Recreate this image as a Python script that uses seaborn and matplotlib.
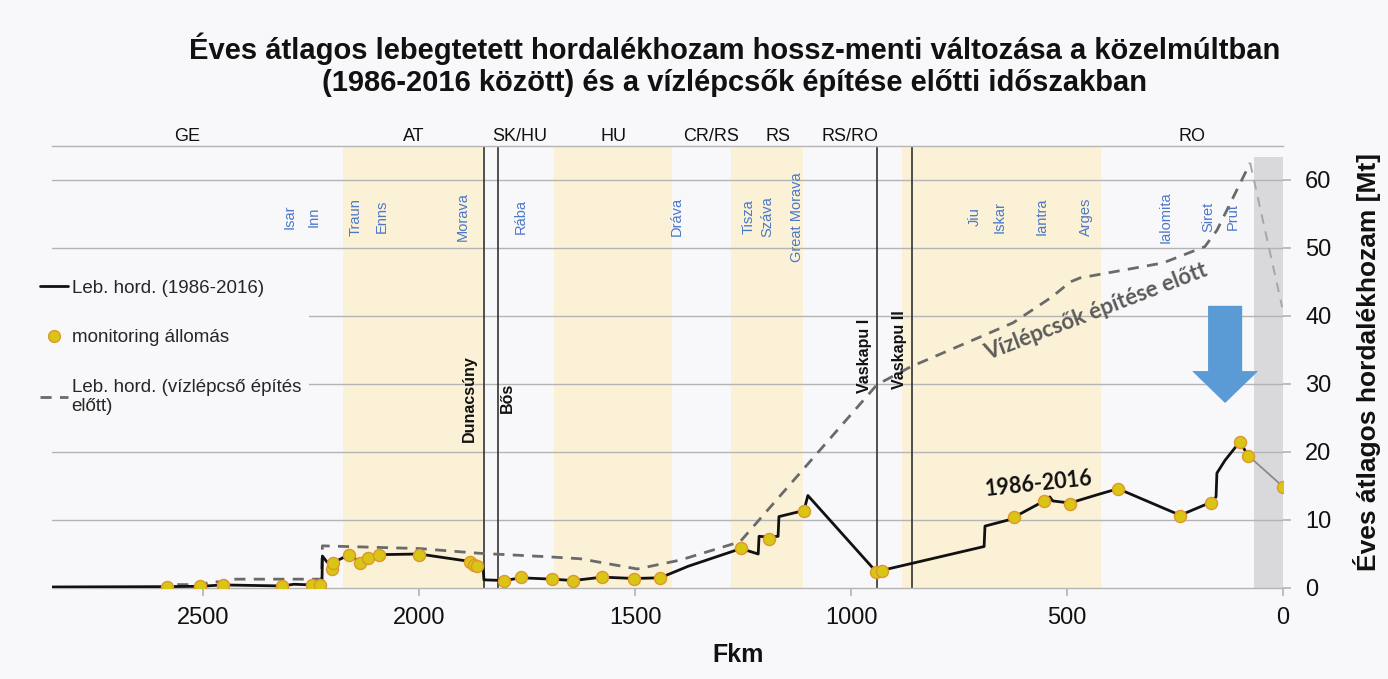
import matplotlib
matplotlib.use("Agg")
import matplotlib.pyplot as plt
import matplotlib.transforms as mtransforms
from matplotlib.lines import Line2D
import seaborn as sns

# --- data (Fkm, Mt) ---
recent_km = [2850, 2584, 2507, 2454, 2317, 2290, 2247, 2229, 2225, 2224, 2213, 2200,
             2162, 2137, 2119, 2094, 2000, 1882, 1865, 1852, 1850, 1803, 1764, 1692,
             1643, 1576, 1502, 1442, 1377, 1255, 1215, 1213, 1190, 1169, 1167, 1109,
             1100, 942, 928, 692, 690, 636, 623, 553, 540, 533, 493, 431, 382, 238,
             167, 155, 153, 134, 100, 81]
recent_mt = [0.15, 0.2, 0.25, 0.45, 0.3, 0.55, 0.45, 0.45, 0.45, 4.7, 3.8, 3.7,
             4.9, 3.8, 4.4, 4.9, 5.0, 3.9, 3.4, 3.2, 1.2, 1.1, 1.5, 1.3,
             1.1, 1.6, 1.4, 1.5, 3.2, 5.8, 5.0, 7.6, 7.5, 7.6, 10.5, 11.4,
             13.6, 2.4, 2.6, 6.1, 9.1, 10.0, 10.4, 12.8, 13.4, 12.8, 12.5, 13.7, 14.6, 10.7,
             12.6, 13.4, 16.9, 18.8, 21.5, 19.5]
recent_tail_km = [81, 0]
recent_tail_mt = [19.5, 14.9]

station_km = [2584, 2507, 2454, 2317, 2247, 2229, 2202, 2200, 2162, 2137, 2119, 2094,
              2000, 1882, 1873, 1865, 1803, 1764, 1692, 1643, 1576, 1502, 1442, 1255,
              1190, 1109, 942, 928, 623, 553, 493, 382, 238, 167, 100, 81, 0]
station_mt = [0.2, 0.25, 0.45, 0.3, 0.45, 0.45, 2.8, 3.7, 4.8, 3.7, 4.4, 4.8,
              4.9, 3.8, 3.4, 3.3, 1.0, 1.6, 1.3, 1.0, 1.6, 1.3, 1.5, 5.9,
              7.2, 11.3, 2.3, 2.5, 10.4, 12.8, 12.4, 14.5, 10.6, 12.5, 21.5, 19.4, 14.9]

before_km = [2560, 2502, 2484, 2454, 2444, 2226, 2224, 2000, 1859, 1704, 1627, 1495,
             1396, 1257, 940, 863, 625, 535, 493, 470, 278, 181, 153, 76]
before_mt = [0.5, 0.5, 0.9, 0.9, 1.3, 1.3, 6.2, 5.8, 5.1, 4.6, 4.3, 2.8,
             4.1, 6.8, 29.9, 32.5, 39.0, 42.8, 45.0, 45.6, 47.8, 50.2, 52.6, 62.5]
before_tail_km = [76, 2]
before_tail_mt = [62.5, 41.3]

countries = ["GE", "AT", "SK/HU", "HU", "CR/RS", "RS", "RS/RO", "RO"]
country_km = [2537, 2012, 1768, 1549, 1325, 1170, 1002, 210]

tributaries = ["Isar", "Inn", "Traun", "Enns", "Morava", "Rába", "Dráva", "Tisza", "Száva",
               "Great Morava", "Jiu", "Iskar", "Iantra", "Arges", "Ialomita", "Siret", "Prut"]
tributary_km = [2301, 2245, 2148, 2086, 1900, 1764, 1403, 1238, 1194,
                1125, 713, 657, 558, 456, 271, 174, 116]

dams = ["Dunacsúny", "Bős", "Vaskapu I", "Vaskapu II"]
dam_km = [1850, 1817, 940, 859]
dam_label_km = [1884, 1796, 968, 887]
dam_label_mt = [27.8, 28.0, 34.1, 35.0]

country_bands = [(2176, 1852), (1688, 1414), (1278, 1111), (882, 421)]
delta_band = (67, 0, 63.4)

# --- style ---
sns.set_theme(style="white")
plt.rcParams["font.family"] = ["Liberation Sans", "DejaVu Sans"]
bg = "#f8f8fa"
black = "#111111"
grid_col = "#b4b4b4"
band_col = "#faf1d6"
blue_txt = "#4a78c8"
st_face = "#d8c515"
st_edge = "#e0962a"

fig = plt.figure(figsize=(13.88, 6.79), dpi=100, facecolor=bg)
ax = fig.add_axes([52 / 1388, 91 / 679, 1231 / 1388, 442 / 679], facecolor=bg)
ax.set_xlim(2850, 0)
ax.set_ylim(0, 65)

for a, b in country_bands:
    ax.axvspan(b, a, color=band_col, lw=0, zorder=0)
ax.axvspan(delta_band[1], delta_band[0], ymax=delta_band[2] / 65, color="#d9d9db", lw=0, zorder=0.2)

for v in range(10, 61, 10):
    ax.axhline(v, color=grid_col, lw=1, zorder=0.5)

for km in dam_km:
    ax.axvline(km, color="#333333", lw=1.2, zorder=1)

# lines and stations
sns.lineplot(x=before_km, y=before_mt, sort=False, estimator=None, color="#6a6a6a",
             lw=2, linestyle=(0, (4, 3)), ax=ax, zorder=3)
sns.lineplot(x=before_tail_km, y=before_tail_mt, sort=False, estimator=None, color="#a6a6a6",
             lw=1.4, linestyle=(0, (5, 4)), ax=ax, zorder=3)
sns.lineplot(x=recent_km, y=recent_mt, sort=False, estimator=None, color=black,
             lw=2, ax=ax, zorder=4)
sns.lineplot(x=recent_tail_km, y=recent_tail_mt, sort=False, estimator=None, color="#8a8a8a",
             lw=1.3, ax=ax, zorder=4)
sns.scatterplot(x=station_km, y=station_mt, s=75, color=st_face, edgecolor=st_edge,
                linewidth=1.0, ax=ax, zorder=5)

# big arrow
ax.arrow(134, 41.5, 0, -14.3, width=79, head_width=153, head_length=4.7,
         length_includes_head=True, color="#5b9bd5", lw=0, zorder=6)

# labels inside the plot
trans = mtransforms.blended_transform_factory(ax.transData, ax.transAxes)
for name, km in zip(countries, country_km):
    ax.text(km, 1.021, name, transform=trans, ha="center", va="center", fontsize=13, color=black)

for name, km in zip(tributaries, tributary_km):
    ax.text(km, 54.6, name, rotation=90, ha="center", va="center", fontsize=10.5, color=blue_txt)

for name, km, mt in zip(dams, dam_label_km, dam_label_mt):
    ax.text(km, mt, name, rotation=90, ha="center", va="center", fontsize=11.5,
            fontweight="bold", color=black, zorder=6)

ax.text(433, 40.6, "Vízlépcsők építése előtt", rotation=21, ha="center", va="center",
        fontsize=16, fontweight="bold", color="#5a5a5a", family=["Lato", "DejaVu Sans"], zorder=6)
ax.text(566, 15.3, "1986-2016", rotation=6, ha="center", va="center",
        fontsize=15.5, fontweight="bold", color=black, family=["Lato", "DejaVu Sans"], zorder=6)

# axes
ax.set_xticks([2500, 2000, 1500, 1000, 500, 0])
ax.set_yticks(range(0, 61, 10))
ax.yaxis.tick_right()
ax.tick_params(axis="x", direction="out", length=6, color=grid_col, labelsize=17, pad=8,
               labelcolor=black, bottom=True)
ax.tick_params(axis="y", direction="out", length=6, color=grid_col, labelsize=17, pad=10,
               labelcolor=black, right=True, left=False)
for side in ["left", "right"]:
    ax.spines[side].set_visible(False)
for side in ["top", "bottom"]:
    ax.spines[side].set_color(grid_col)
    ax.spines[side].set_linewidth(1)
ax.set_xlabel("")
ax.set_ylabel("")

fig.text(738 / 1388, 1 - 655 / 679, "Fkm", ha="center", va="center", fontsize=18,
         fontweight="bold", color=black)
fig.text(1367 / 1388, 1 - 362 / 679, "Éves átlagos hordalékhozam [Mt]", rotation=90,
         ha="center", va="center", fontsize=19, fontweight="bold", color=black)
fig.text(735 / 1388, 1 - 65 / 679,
         "Éves átlagos lebegtetett hordalékhozam hossz-menti változása a közelmúltban\n"
         "(1986-2016 között) és a vízlépcsők építése előtti időszakban",
         ha="center", va="center", fontsize=21, fontweight="bold", color=black, linespacing=1.2)

# legend
handles = [
    Line2D([], [], color=black, lw=2),
    Line2D([], [], ls="none", marker="o", markersize=8.5, markerfacecolor=st_face,
           markeredgecolor=st_edge, markeredgewidth=1),
    Line2D([], [], color="#6a6a6a", lw=2, ls=(0, (4, 3))),
]
labels = ["Leb. hord. (1986-2016)", "monitoring állomás",
          "Leb. hord. (vízlépcső építés\nelőtt)"]
leg = ax.legend(handles, labels, loc="upper left", bbox_to_anchor=(23 / 1388, 1 - 263 / 679),
                bbox_transform=fig.transFigure, frameon=True, facecolor=bg, edgecolor="none",
                framealpha=1, fontsize=13.5, handlelength=1.5, handletextpad=0.2,
                labelspacing=1.72, borderpad=0.4)
leg.set_zorder(7)

fig.savefig("out.png", dpi=100, facecolor=bg)
